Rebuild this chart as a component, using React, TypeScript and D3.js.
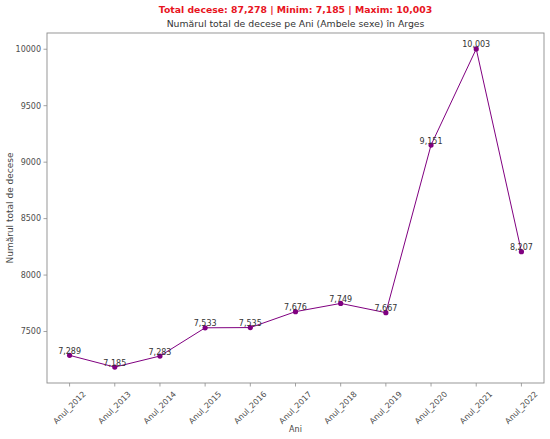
import { useEffect, useRef } from 'react'
import * as d3 from 'd3'

const years = [
  'Anul_2012', 'Anul_2013', 'Anul_2014', 'Anul_2015', 'Anul_2016', 'Anul_2017',
  'Anul_2018', 'Anul_2019', 'Anul_2020', 'Anul_2021', 'Anul_2022',
]
const deaths = [7289, 7185, 7283, 7533, 7535, 7676, 7749, 7667, 9151, 10003, 8207]
const yTicks = [7500, 8000, 8500, 9000, 9500, 10000]

const W = 550
const H = 439
const FONT = '"DejaVu Sans", sans-serif'

export default function App() {
  const svgRef = useRef<SVGSVGElement>(null)

  useEffect(() => {
    if (!svgRef.current) return
    const svg = d3.select(svgRef.current)
    svg.selectAll('*').remove()

    const margin = { top: 33, right: 6, bottom: 56, left: 47 }
    const x0 = margin.left
    const x1 = W - margin.right
    const y0 = margin.top
    const y1 = H - margin.bottom

    const lo = d3.min(deaths)!
    const hi = d3.max(deaths)!
    const pad = (hi - lo) * 0.05

    const xScale = d3.scalePoint<string>().domain(years).range([x0, x1]).padding(0.5)
    const yScale = d3.scaleLinear().domain([lo - pad, hi + pad]).range([y1, y0])

    const spine = '#8c8c8c'
    const tickText = '#4d4d4d'

    // axes frame
    svg.append('rect')
      .attr('x', x0).attr('y', y0)
      .attr('width', x1 - x0).attr('height', y1 - y0)
      .attr('fill', 'none').attr('stroke', spine).attr('stroke-width', 0.9)

    // y ticks
    const yt = svg.append('g')
    yTicks.forEach(t => {
      const y = yScale(t)
      yt.append('line').attr('x1', x0 - 3.5).attr('x2', x0).attr('y1', y).attr('y2', y)
        .attr('stroke', spine).attr('stroke-width', 0.8)
      yt.append('text').attr('x', x0 - 6).attr('y', y).attr('dy', '0.35em')
        .attr('text-anchor', 'end').attr('font-size', 8).attr('font-family', FONT)
        .attr('fill', tickText).text(t)
    })

    // x ticks with rotated labels (bbox centred on the tick)
    const xt = svg.append('g')
    years.forEach(yr => {
      const x = xScale(yr)!
      xt.append('line').attr('x1', x).attr('x2', x).attr('y1', y1).attr('y2', y1 + 3.5)
        .attr('stroke', spine).attr('stroke-width', 0.8)
      const label = xt.append('text')
        .attr('text-anchor', 'middle').attr('dominant-baseline', 'central')
        .attr('font-size', 8).attr('font-family', FONT).attr('fill', tickText)
        .text(yr)
      const len = (label.node() as SVGTextElement).getComputedTextLength()
      const h = 8
      const half = (len + h) / (2 * Math.SQRT2)
      const cy = y1 + 7 + half
      label.attr('transform', `translate(${x},${cy}) rotate(-45)`)
    })

    // axis titles
    svg.append('text').attr('x', (x0 + x1) / 2).attr('y', 432)
      .attr('text-anchor', 'middle').attr('font-size', 8).attr('font-family', FONT)
      .attr('fill', '#444').text('Ani')

    svg.append('text')
      .attr('transform', `translate(13,${(y0 + y1) / 2}) rotate(-90)`)
      .attr('text-anchor', 'middle').attr('font-size', 9).attr('font-family', FONT)
      .attr('fill', '#444').text('Numărul total de decese')

    // titles
    const total = d3.sum(deaths)
    const fmt = d3.format(',')
    svg.append('text').attr('x', (x0 + x1) / 2).attr('y', 13)
      .attr('text-anchor', 'middle').attr('font-size', 9.3).attr('font-weight', 'bold')
      .attr('font-family', FONT).attr('fill', '#e8141e')
      .text(`Total decese: ${fmt(total)} | Minim: ${fmt(lo)} | Maxim: ${fmt(hi)}`)

    svg.append('text').attr('x', (x0 + x1) / 2).attr('y', 27)
      .attr('text-anchor', 'middle').attr('font-size', 9.3)
      .attr('font-family', FONT).attr('fill', '#333')
      .text('Numărul total de decese pe Ani (Ambele sexe) în Arges')

    // line + markers
    const line = d3.line<number>()
      .x((_, i) => xScale(years[i])!)
      .y(d => yScale(d))

    svg.append('path')
      .datum(deaths)
      .attr('fill', 'none')
      .attr('stroke', '#800080')
      .attr('stroke-width', 1)
      .attr('d', line)

    svg.selectAll('.dot')
      .data(deaths)
      .enter()
      .append('circle')
      .attr('class', 'dot')
      .attr('cx', (_, i) => xScale(years[i])!)
      .attr('cy', d => yScale(d))
      .attr('r', 2.6)
      .attr('fill', '#800080')

    svg.selectAll('.val')
      .data(deaths)
      .enter()
      .append('text')
      .attr('class', 'val')
      .attr('x', (_, i) => xScale(years[i])!)
      .attr('y', d => yScale(d) - 1.5)
      .attr('text-anchor', 'middle')
      .attr('font-size', 8)
      .attr('font-family', FONT)
      .attr('fill', '#333')
      .text(d => fmt(d))
  }, [])

  return (
    <svg
      ref={svgRef}
      width={W}
      height={H}
      style={{ position: 'absolute', left: 0, top: 0, background: '#fff' }}
    />
  )
}
